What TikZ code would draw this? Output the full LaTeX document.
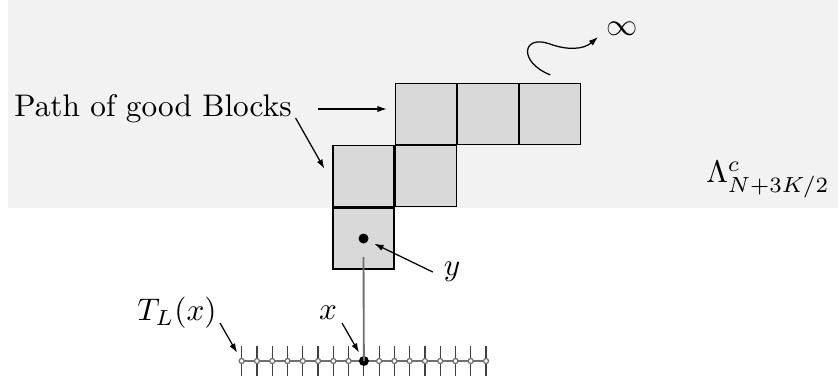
\documentclass[tikz,border=0pt]{standalone}
\usepackage{xcolor}
\usepackage{tikz}
\usetikzlibrary{positioning, arrows.meta, calc}
\definecolor{bggray}{HTML}{F2F2F2}
\definecolor{blkgray}{HTML}{D9D9D9}
\definecolor{axisgray}{HTML}{707070}

\tikzset{
  blk/.style={draw, fill=blkgray, minimum size=19.52pt, inner sep=0pt},
  arr/.style={-{Latex[length=3pt, width=2pt]}},
  site/.style={circle, draw=axisgray, fill=white, inner sep=0pt, minimum size=1.6pt},
  bigdot/.style={circle, fill=black, inner sep=0pt, minimum size=3.2pt},
}

\begin{document}
\begin{tikzpicture}[x=0.32pt, y=-0.32pt]
  \useasboundingbox (0,0) rectangle (838,386);
  \fill[bggray] (8,0) rectangle (838,208);

  % path of blocks
  \node[blk] (b1) at (363.5,238.5) {};
  \node[blk, above=0pt of b1] (b2) {};
  \node[blk, right=0pt of b2] (b3) {};
  \node[blk, above=0pt of b3] (b4) {};
  \node[blk, right=0pt of b4] (b5) {};
  \node[blk, right=0pt of b5] (b6) {};

  % the line T_L(x)
  \foreach \i in {0,...,16} {
    \coordinate (t\i) at ({241.7+15.27*\i},361);
    \draw[black!75] ($(t\i)+(0,-15)$) -- ($(t\i)+(0,15)$);
  }
  \draw[axisgray, line width=0.6pt] (t0) -- (t16);
  \node[bigdot] (xdot) at (t8) {};
  \node[bigdot] (ydot) at (b1) {};
  \draw[axisgray, line width=0.6pt] ([shift={(0,18.5)}]b1.center) -- (xdot.center);
  \foreach \i in {0,...,7,9,10,...,16}
    \node[site] (s\i) at (t\i) {};

  % labels
  \node (path) at (153,109) {Path of good Blocks};
  \node (tl) at (177,313) {$T_L(x)$};
  \node (xl) at (328,313) {$x$};
  \node (yl) at (452,272) {$y$};
  \node (lam) at (768,180) {$\Lambda^c_{N+3K/2}$};
  \node (inf) at (622,29) {$\infty$};

  \draw[arr, shorten <=5pt, shorten >=2.5pt] (path.east) -- (path.east -| b4.west);
  \draw[arr] ([shift={(-7,9)}]path.east) -- ([shift={(-8,-7.5)}]b2.west);
  \draw[arr, shorten >=3pt] ([shift={(43,10)}]tl.center) -- (t0);
  \draw[arr, shorten >=3.1pt] ([shift={(14,10)}]xl.center) -- (xdot.center);
  \draw[arr, shorten >=3.8pt] (yl.west) -- (ydot.center);
  \draw[arr] ([shift={(0,-8)}]b6.north) .. controls (518,62) and (522,34) .. (550,44)
    .. controls (566,50) and (583,50) .. ([shift={(-24,8)}]inf.center);
\end{tikzpicture}
\end{document}
